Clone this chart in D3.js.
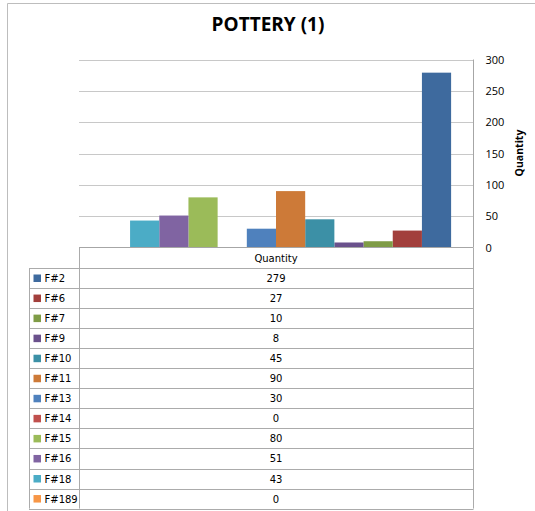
<!DOCTYPE html>
<html>
<head>
<meta charset="utf-8">
<script src="https://cdn.jsdelivr.net/npm/d3@7"></script>
<style>
  html, body { margin: 0; padding: 0; background: #fff; }
  svg { display: block; }
</style>
</head>
<body>
<svg id="chart" width="535" height="511"></svg>
<script>
// ---- data ----
const title = "POTTERY (1)";
const category = "Quantity";
const seriesNames = ["F#2", "F#6", "F#7", "F#9", "F#10", "F#11", "F#13", "F#14", "F#15", "F#16", "F#18", "F#189"];
const seriesValues = [279, 27, 10, 8, 45, 90, 30, 0, 80, 51, 43, 0];
const seriesColors = ["#3E6A9E", "#A23F3C", "#7F9C46", "#6A518C", "#3C90A6", "#CD7A38",
                      "#4F81BD", "#C0504D", "#9BBB59", "#8064A2", "#4BACC6", "#F79646"];
const yTicks = [0, 50, 100, 150, 200, 250, 300];
const yAxisTitle = "Quantity";

// ---- layout ----
const svg = d3.select("#chart");
const plot = { left: 79, right: 473, top: 59.5, bottom: 247.5 };
const table = { legendLeft: 29, valueLeft: 79, right: 473, headerTop: 247.5, rowTop: 268, rowH: 20.05 };

// outer chart frame
svg.append("path")
  .attr("d", `M7.5,511 V3.5 H535`)
  .attr("fill", "none").attr("stroke", "#BDBDBD").attr("stroke-width", 1);

// title
svg.append("text")
  .attr("x", 268).attr("y", 31)
  .attr("text-anchor", "middle")
  .attr("font-family", "'Open Sans', sans-serif")
  .attr("font-weight", "bold").attr("font-size", 19)
  .attr("fill", "#000")
  .text(title);

// scales
const x = d3.scaleBand()
  .domain(seriesNames.slice().reverse())
  .range([plot.left, plot.right])
  .paddingInner(0).paddingOuter(0.75);

const y = d3.scaleLinear().domain([0, 300]).range([plot.bottom, plot.top]);

// gridlines
svg.append("g").selectAll("line")
  .data(yTicks.filter(t => t > 0))
  .join("line")
  .attr("x1", plot.left).attr("x2", plot.right)
  .attr("y1", d => Math.round(y(d)) + 0.5).attr("y2", d => Math.round(y(d)) + 0.5)
  .attr("stroke", "#C8C8C8").attr("stroke-width", 1);

// bars
svg.append("g").selectAll("rect")
  .data(seriesNames.map((n, i) => ({ name: n, value: seriesValues[i], color: seriesColors[i] })))
  .join("rect")
  .attr("x", d => x(d.name))
  .attr("width", x.bandwidth())
  .attr("y", d => y(d.value))
  .attr("height", d => y(0) - y(d.value))
  .attr("fill", d => d.color);

// right value axis
const yAxis = d3.axisRight(y).tickValues(yTicks).tickSize(0).tickPadding(12);
const gAxis = svg.append("g")
  .attr("transform", `translate(${plot.right + 0.5},0)`)
  .call(yAxis);
gAxis.select(".domain").attr("stroke", "#A6A6A6").attr("d", `M0,${plot.top}V${plot.bottom}`);
gAxis.selectAll("text")
  .attr("font-family", "'Open Sans', sans-serif")
  .attr("font-size", 11)
  .attr("fill", "#000");

// axis title
svg.append("text")
  .attr("transform", `translate(523,153) rotate(-90)`)
  .attr("text-anchor", "middle")
  .attr("font-family", "'Open Sans', sans-serif")
  .attr("font-weight", "bold").attr("font-size", 10.5)
  .attr("fill", "#000")
  .text(yAxisTitle);

// ---- data table ----
const gT = svg.append("g");
const tableBottom = table.rowTop + seriesNames.length * table.rowH;
const lineColor = "#ABABAB";

gT.append("line")
  .attr("x1", table.valueLeft).attr("x2", table.right)
  .attr("y1", table.headerTop).attr("y2", table.headerTop)
  .attr("stroke", "#A6A6A6");
gT.append("line").attr("x1", table.valueLeft + 0.5).attr("x2", table.valueLeft + 0.5)
  .attr("y1", table.headerTop).attr("y2", tableBottom).attr("stroke", lineColor);
gT.append("line").attr("x1", table.right + 0.5).attr("x2", table.right + 0.5)
  .attr("y1", table.headerTop).attr("y2", tableBottom).attr("stroke", lineColor);
gT.append("line").attr("x1", table.legendLeft + 0.5).attr("x2", table.legendLeft + 0.5)
  .attr("y1", table.rowTop).attr("y2", tableBottom).attr("stroke", lineColor);

gT.selectAll("line.row")
  .data(d3.range(seriesNames.length + 1))
  .join("line").attr("class", "row")
  .attr("x1", table.legendLeft).attr("x2", table.right + 0.5)
  .attr("y1", i => Math.round(table.rowTop + i * table.rowH) + 0.5)
  .attr("y2", i => Math.round(table.rowTop + i * table.rowH) + 0.5)
  .attr("stroke", lineColor);

const tableFont = "'DejaVu Sans', Verdana, sans-serif";
const valCx = (table.valueLeft + table.right) / 2;

gT.append("text")
  .attr("x", valCx).attr("y", (table.headerTop + table.rowTop) / 2 + 4)
  .attr("text-anchor", "middle")
  .attr("font-family", tableFont).attr("font-size", 10).attr("fill", "#000")
  .text(category);

const rows = gT.selectAll("g.r")
  .data(seriesNames.map((n, i) => ({ name: n, value: seriesValues[i], color: seriesColors[i], i })))
  .join("g").attr("class", "r")
  .attr("transform", d => `translate(0,${table.rowTop + d.i * table.rowH})`);

rows.append("rect")
  .attr("x", 33.5).attr("y", 6.5).attr("width", 7.5).attr("height", 7.5)
  .attr("fill", d => d.color);
rows.append("text")
  .attr("x", 44.5).attr("y", 14)
  .attr("font-family", tableFont).attr("font-size", 10).attr("fill", "#000")
  .text(d => d.name);
rows.append("text")
  .attr("x", valCx).attr("y", 14)
  .attr("text-anchor", "middle")
  .attr("font-family", tableFont).attr("font-size", 10).attr("fill", "#000")
  .text(d => d.value);
</script>
</body>
</html>
